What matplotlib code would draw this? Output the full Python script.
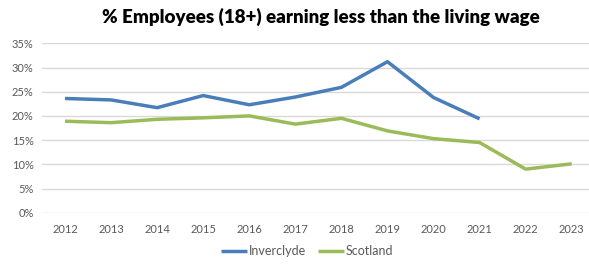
import numpy as np
import matplotlib.pyplot as plt
from matplotlib.ticker import PercentFormatter

years = ['2012', '2013', '2014', '2015', '2016', '2017', '2018', '2019', '2020', '2021', '2022', '2023']
inverclyde = [23.6, 23.3, 21.7, 24.2, 22.3, 23.9, 25.9, 31.2, 23.8, 19.4]
scotland = [18.9, 18.6, 19.3, 19.6, 20.0, 18.3, 19.5, 16.9, 15.3, 14.5, 9.0, 10.1]

plt.rcParams['font.family'] = ['Lato', 'DejaVu Sans']

fig = plt.figure(figsize=(5.89, 2.64), dpi=100)
ax = fig.add_axes([42 / 589, 1 - 212.7 / 264, (589 - 42) / 589, (212.7 - 43.3) / 264])

x = np.arange(len(years))
ax.plot(x[:len(inverclyde)], inverclyde, color='#4a7ebb', lw=2.5, label='Inverclyde', solid_capstyle='butt')
ax.plot(x, scotland, color='#9bbb59', lw=2.5, label='Scotland', solid_capstyle='butt')

ax.set_xlim(-0.5, 11.375)
ax.set_ylim(0, 35)
ax.set_yticks(np.arange(0, 36, 5))
ax.yaxis.set_major_formatter(PercentFormatter(decimals=0))
ax.set_xticks(x)
ax.set_xticklabels(years)
ax.grid(axis='y', color='#d9d9d9', lw=1)
ax.set_axisbelow(True)
for s in ax.spines.values():
    s.set_visible(False)
ax.tick_params(length=0, labelsize=8, colors='#595959', pad=8)
ax.tick_params(axis='y', pad=6)

fig.text(321 / 589, 1 - 17 / 264, '% Employees (18+) earning less than the living wage',
         ha='center', va='center', fontsize=13.5, fontweight='heavy', color='black')
fig.legend(loc='center', bbox_to_anchor=(307 / 589, 1 - 251 / 264), ncol=2, frameon=False,
           fontsize=9, handlelength=2.1, columnspacing=1.0, handletextpad=0.1,
           labelcolor='#595959')

fig.savefig('out.png', dpi=100)
